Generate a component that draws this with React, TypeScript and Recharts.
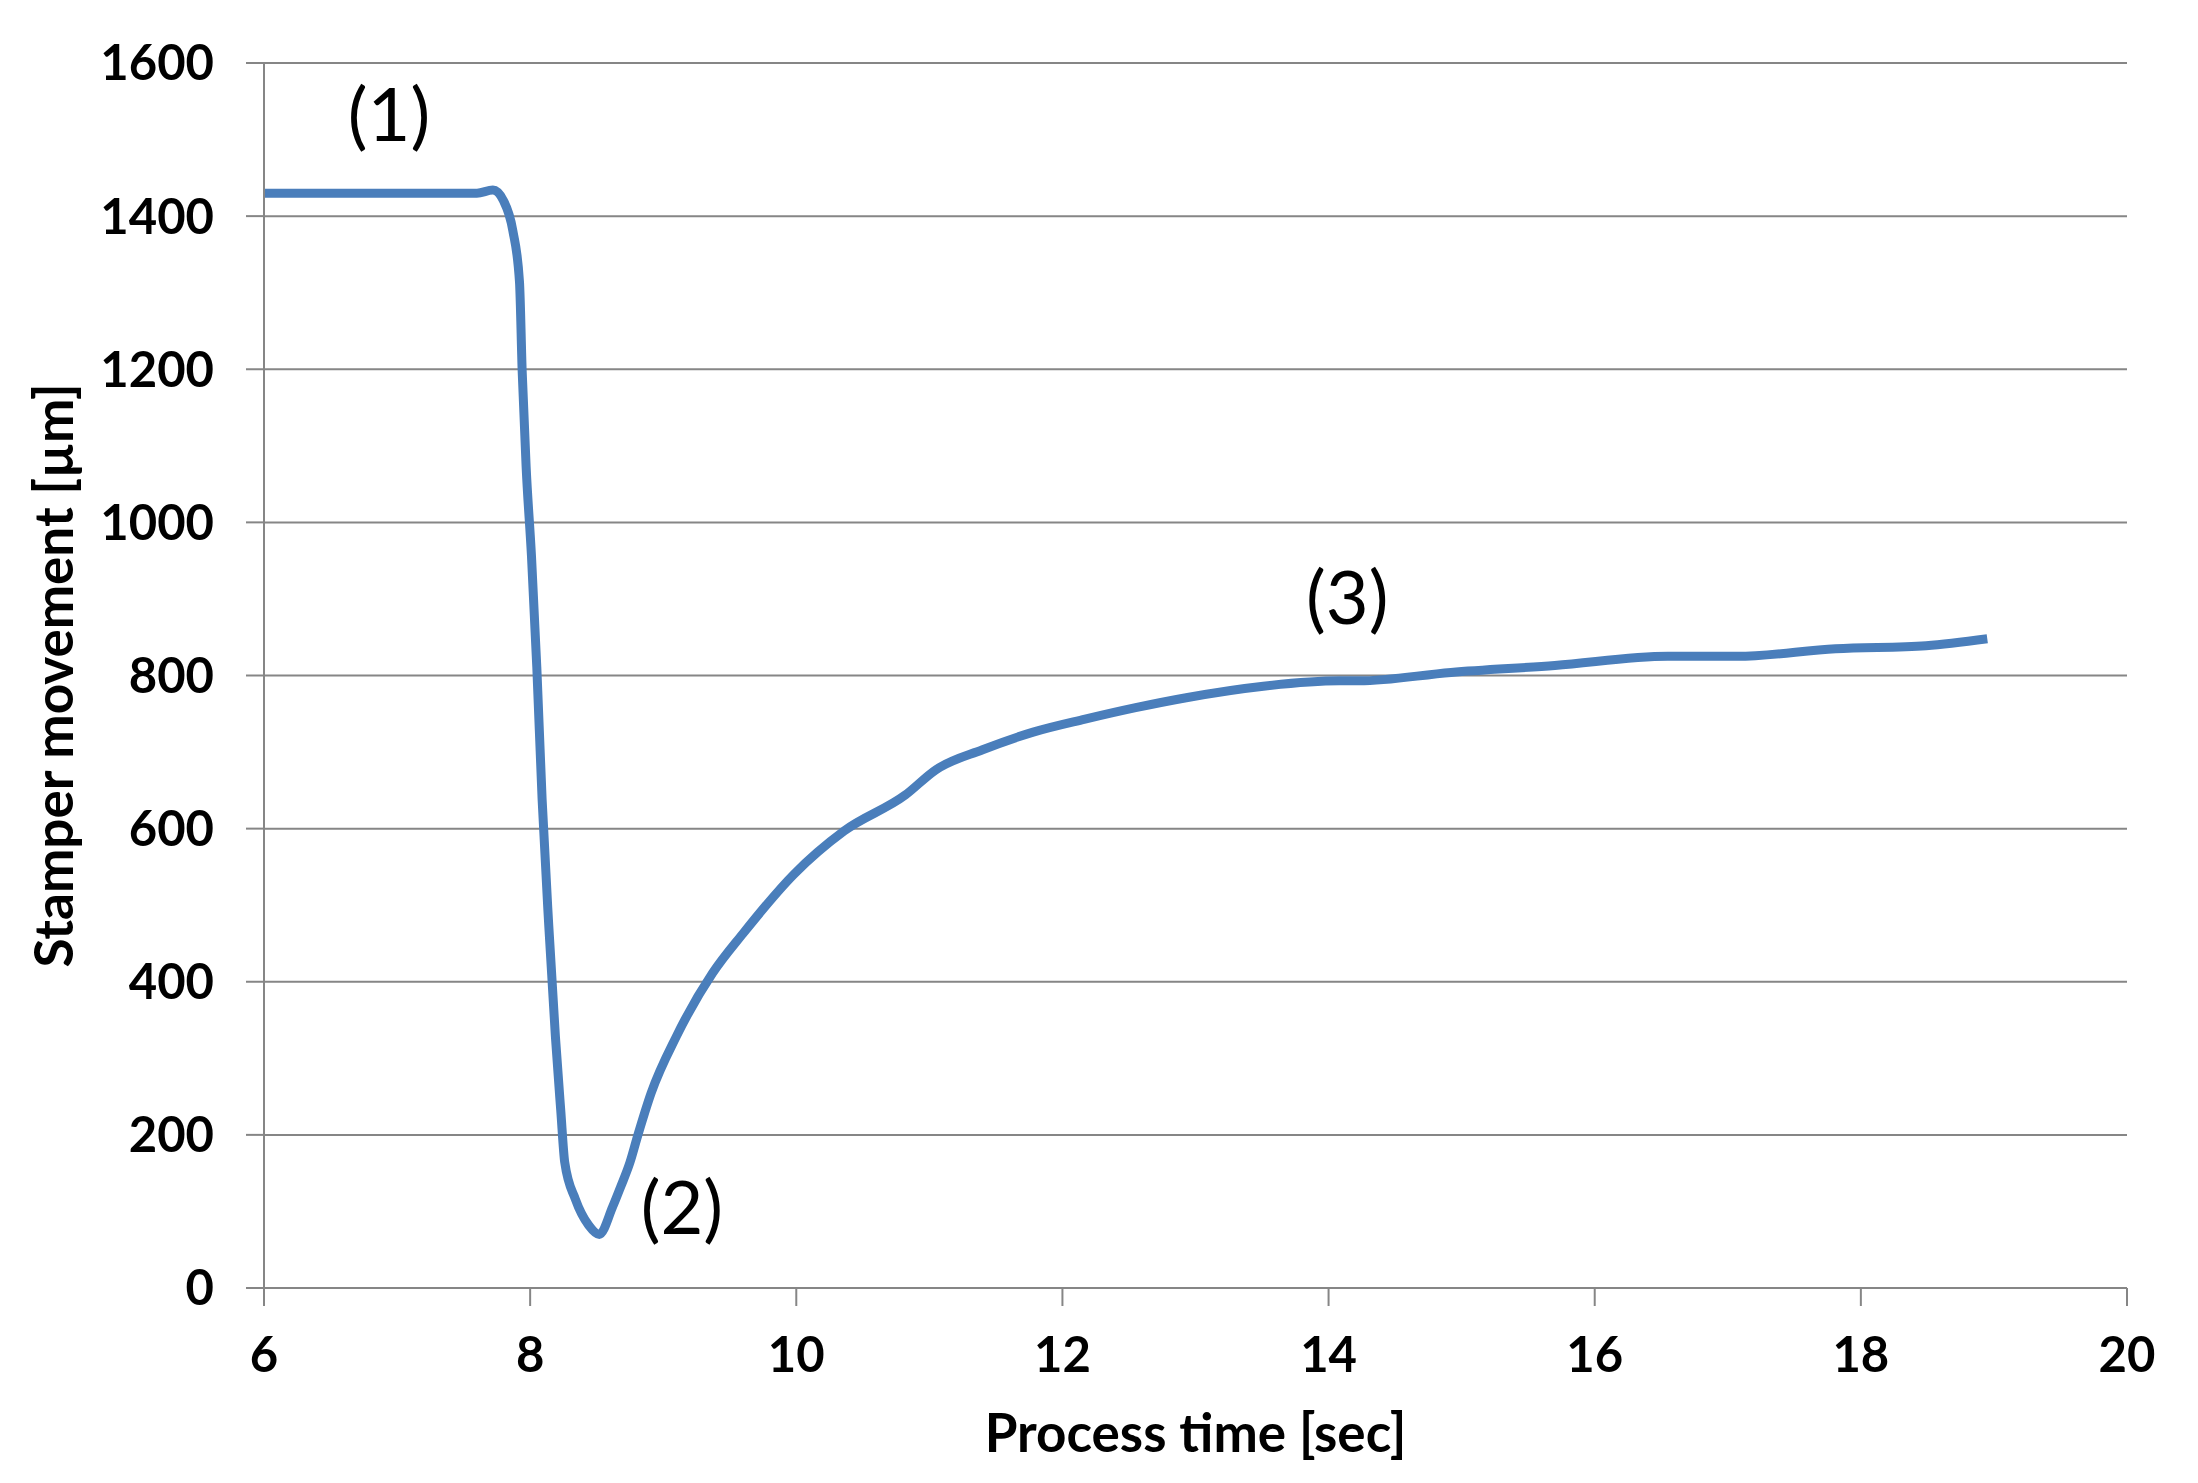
import React from "react";
import { LineChart, Line, XAxis, YAxis, CartesianGrid, ReferenceDot } from "recharts";

// process time [sec]
const times = [
  6.0, 7.0, 7.6, 7.72, 7.8, 7.87, 7.92, 7.94, 7.97, 8.01, 8.05, 8.09, 8.14, 8.19, 8.23, 8.26,
  8.34, 8.44, 8.52, 8.62, 8.68, 8.75, 8.81, 8.91, 9.1, 9.37, 9.6, 9.98, 10.36, 10.82, 11.05,
  11.4, 11.78, 12.17, 12.55, 12.93, 13.51, 14.08, 14.23, 14.92, 15.7, 16.55, 17.07, 17.81,
  18.49, 18.95,
];
// stamper movement [µm]
const movement = [
  1430, 1430, 1430, 1434, 1420, 1381, 1314, 1198, 1072, 956, 811, 638, 473, 328, 232, 164,
  116, 82, 70, 106, 132, 164, 200, 255, 329, 411, 463, 540, 597, 644, 677,
  703, 726, 743, 758, 771, 786, 793, 793, 804, 813, 825, 825, 835,
  839, 848,
];

const xTicks = [6, 8, 10, 12, 14, 16, 18, 20];
const yTicks = [0, 200, 400, 600, 800, 1000, 1200, 1400, 1600];

const notes = [
  { text: "(1)", t: 6.94, v: 1532 },
  { text: "(2)", t: 9.14, v: 104 },
  { text: "(3)", t: 14.14, v: 901 },
];

const data = times.map((t, i) => ({ t, v: movement[i] }));

const GRAY = "#868686";
const BLUE = "#4A7EBB";
const FONT = "Lato, 'Open Sans', sans-serif";

const tickStyle = { fontFamily: FONT, fontWeight: 700, fontSize: 49, fill: "#000" };

const App = () => {
  return (
    <div style={{ width: 2190, height: 1475 }}>
      <LineChart
        width={2190}
        height={1475}
        data={data}
        margin={{ top: 55, right: 71, bottom: 75, left: 56 }}
      >
        <CartesianGrid vertical={false} stroke={GRAY} strokeWidth={2} />
        <XAxis
          dataKey="t"
          type="number"
          domain={[6, 20]}
          ticks={xTicks}
          interval={0}
          height={120}
          tickSize={18}
          tickMargin={31}
          tick={tickStyle}
          axisLine={{ stroke: GRAY, strokeWidth: 2 }}
          tickLine={{ stroke: GRAY, strokeWidth: 2 }}
          label={{
            content: (props: any) => {
              const vb = props.viewBox;
              return (
                <text
                  x={vb.x + vb.width / 2}
                  y={vb.y + 164}
                  textAnchor="middle"
                  style={{ fontFamily: FONT, fontWeight: 700, fontSize: 53 }}
                >
                  Process time [sec]
                </text>
              );
            },
          }}
        />
        <YAxis
          type="number"
          domain={[0, 1600]}
          ticks={yTicks}
          interval={0}
          width={200}
          tickSize={18}
          tickMargin={32}
          tick={tickStyle}
          axisLine={{ stroke: GRAY, strokeWidth: 2 }}
          tickLine={{ stroke: GRAY, strokeWidth: 2 }}
          label={{
            content: (props: any) => {
              const vb = props.viewBox;
              const cx = 46;
              const cy = vb.y + vb.height / 2;
              return (
                <text
                  x={cx}
                  y={cy}
                  dy="0.35em"
                  textAnchor="middle"
                  transform={`rotate(-90 ${cx} ${cy})`}
                  style={{ fontFamily: FONT, fontWeight: 700, fontSize: 53 }}
                >
                  Stamper movement [µm]
                </text>
              );
            },
          }}
        />
        <Line
          type="monotone"
          dataKey="v"
          stroke={BLUE}
          strokeWidth={9}
          dot={false}
          isAnimationActive={false}
        />
        {notes.map((n) => (
          <ReferenceDot
            key={n.text}
            x={n.t}
            y={n.v}
            r={0}
            ifOverflow="visible"
            label={{
              content: (props: any) => {
                const vb = props.viewBox;
                return (
                  <text
                    x={vb.x + (vb.width || 0) / 2}
                    y={vb.y + (vb.height || 0) / 2}
                    dy="0.35em"
                    textAnchor="middle"
                    style={{ fontFamily: FONT, fontSize: 74 }}
                  >
                    {n.text}
                  </text>
                );
              },
            }}
          />
        ))}
      </LineChart>
    </div>
  );
};

export default App;
